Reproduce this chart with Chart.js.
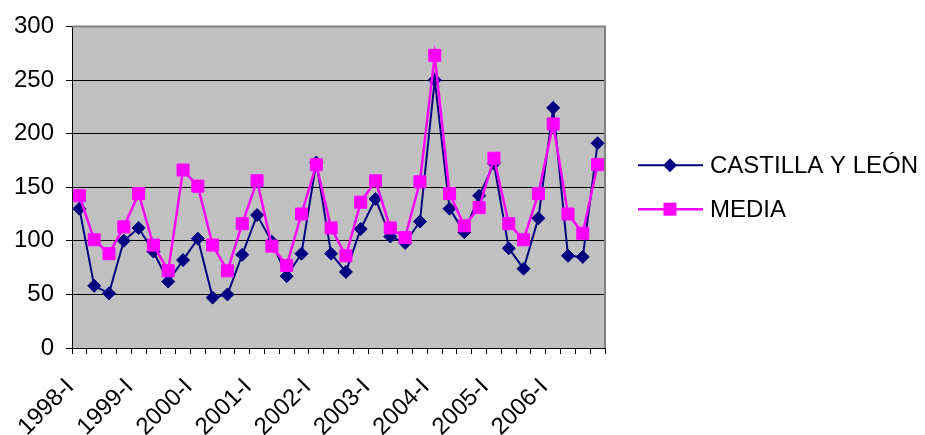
<!DOCTYPE html>
<html>
<head>
<meta charset="utf-8">
<script src="https://cdn.jsdelivr.net/npm/chart.js@4/dist/chart.umd.min.js"></script>
<style>
	body { margin: 0; background: #fff; }
	#wrap { width: 925px; height: 435px; }
</style>
</head>
<body>
<div id="wrap"><canvas id="chart" width="925" height="435"></canvas></div>
<script>
// quarters 1998-I .. 2006-IV
const years = ['1998', '1999', '2000', '2001', '2002', '2003', '2004', '2005', '2006'];
const quarters = ['I', 'II', 'III', 'IV'];
const categories = years.flatMap((y) => quarters.map((q) => `${y}-${q}`));

const castillaValues = [130, 58, 51, 100, 112, 90, 62, 82, 102, 47, 50, 87, 124, 99, 67, 88, 173, 88,
	71, 111, 139, 104, 98, 118, 250, 130, 108, 142, 172, 93, 74, 121, 224, 86, 85, 191];
const mediaValues = [142, 101, 88, 113, 144, 96, 72, 166, 151, 96, 72, 116, 156, 95, 77, 125, 171, 112,
	86, 136, 156, 112, 103, 155, 273, 144, 114, 131, 177, 116, 101, 144, 209, 125, 107, 171];

const seriesNames = ['CASTILLA Y LEÓN', 'MEDIA'];
const yTicks = [0, 50, 100, 150, 200, 250, 300];

const FONT = '"Liberation Sans", Arial, sans-serif';
const NAVY = '#000080';
const MAGENTA = '#FF00FF';

const plotBackground = {
	id: 'plotBackground',
	beforeDraw (chart) {
		const { ctx, chartArea: a } = chart;
		ctx.save();
		ctx.fillStyle = '#C0C0C0';
		ctx.fillRect(a.left, a.top, a.right - a.left, a.bottom - a.top);
		ctx.restore();
	},
	beforeDatasetsDraw (chart) {
		const { ctx, chartArea: a } = chart;
		ctx.save();
		ctx.strokeStyle = '#808080';
		ctx.lineWidth = 2;
		ctx.beginPath();
		ctx.moveTo(a.left, a.top);
		ctx.lineTo(a.right, a.top);
		ctx.lineTo(a.right, a.bottom);
		ctx.stroke();
		ctx.restore();
	}
};

// Excel-style legend: line with the marker in the middle, to the right of the plot
const sideLegend = {
	id: 'sideLegend',
	afterDraw (chart) {
		const { ctx, chartArea: a } = chart;
		const rowGap = 44;
		const sets = chart.data.datasets;
		const midY = (a.top + a.bottom) / 2;
		let y = midY - rowGap * (sets.length - 1) / 2;
		const x0 = a.right + 33;
		const x1 = x0 + 65;
		const mx = x0 + 32;

		ctx.save();
		ctx.font = `24px ${FONT}`;
		ctx.textBaseline = 'middle';
		ctx.fillStyle = '#000';
		sets.forEach((d) => {
			ctx.strokeStyle = d.borderColor;
			ctx.lineWidth = d.borderWidth;
			ctx.beginPath();
			ctx.moveTo(x0, y);
			ctx.lineTo(x1, y);
			ctx.stroke();

			ctx.fillStyle = d.backgroundColor;
			ctx.beginPath();
			if (d.pointStyle === 'rectRot') {
				ctx.moveTo(mx, y - 7);
				ctx.lineTo(mx + 7, y);
				ctx.lineTo(mx, y + 7);
				ctx.lineTo(mx - 7, y);
				ctx.closePath();
			} else {
				ctx.rect(mx - 6.5, y - 6.5, 13, 13);
			}
			ctx.fill();

			ctx.fillStyle = '#000';
			ctx.fillText(d.label, x1 + 7, y + 1);
			y += rowGap;
		});
		ctx.restore();
	}
};

const config = {
	type: 'line',
	data: {
		labels: categories,
		datasets: [
			{
				label: seriesNames[0],
				data: castillaValues,
				borderColor: NAVY,
				backgroundColor: NAVY,
				borderWidth: 2,
				pointStyle: 'rectRot',
				pointRadius: 6.5,
				pointBorderWidth: 1,
				tension: 0,
				order: 1
			},
			{
				label: seriesNames[1],
				data: mediaValues,
				borderColor: MAGENTA,
				backgroundColor: MAGENTA,
				borderWidth: 2.5,
				pointStyle: 'rect',
				pointRadius: 8.5,
				pointBorderWidth: 1,
				tension: 0,
				order: 0
			}
		]
	},
	options: {
		responsive: false,
		animation: false,
		devicePixelRatio: 1,
		layout: { padding: { left: 14, top: 26, right: 320, bottom: 0 } },
		plugins: {
			tooltip: { enabled: false },
			legend: { display: false }
		},
		scales: {
			x: {
				type: 'category',
				offset: true,
				grid: {
					offset: true,
					drawOnChartArea: false,
					drawTicks: true,
					tickLength: 6,
					color: '#000'
				},
				border: { color: '#000', width: 1 },
				ticks: {
					autoSkip: false,
					maxRotation: 45,
					minRotation: 45,
					padding: 19,
					labelOffset: -9,
					color: '#000',
					font: { family: FONT, size: 24 },
					callback: (v, i) => (i % 4 === 0 ? categories[i] : '')
				},
				afterFit: (scale) => { scale.height = 87; }
			},
			y: {
				min: 0,
				max: 300,
				afterBuildTicks: (scale) => { scale.ticks = yTicks.map((v) => ({ value: v })); },
				grid: {
					color: (ctx) => (ctx.tick && ctx.tick.value === 300 ? 'rgba(0,0,0,0)' : '#000'),
					lineWidth: 1,
					drawTicks: true,
					tickLength: 6,
					tickColor: '#000'
				},
				border: { color: '#000', width: 1 },
				ticks: {
					padding: 12,
					color: '#000',
					font: { family: FONT, size: 24 }
				},
				afterFit: (scale) => { scale.width = 58; }
			}
		}
	},
	plugins: [plotBackground, sideLegend]
};

const chart = new Chart(document.getElementById('chart'), config);
</script>
</body>
</html>
